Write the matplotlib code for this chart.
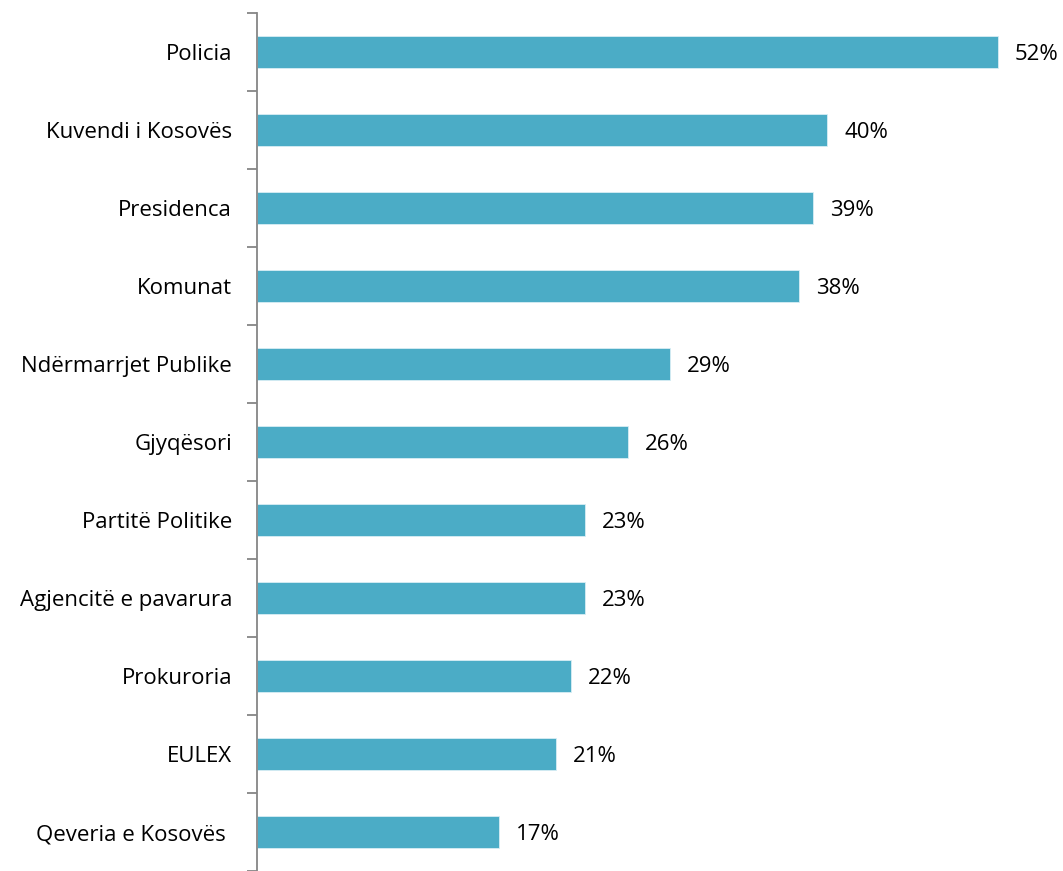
import matplotlib
matplotlib.use("Agg")
import matplotlib.pyplot as plt
import numpy as np

categories = ["Policia", "Kuvendi i Kosovës", "Presidenca", "Komunat",
              "Ndërmarrjet Publike", "Gjyqësori", "Partitë Politike",
              "Agjencitë e pavarura", "Prokuroria", "EULEX", "Qeveria e Kosovës "]
values = [52, 40, 39, 38, 29, 26, 23, 23, 22, 21, 17]

plt.rcParams['font.family'] = ['Open Sans', 'DejaVu Sans']

fig = plt.figure(figsize=(10.63, 8.71), dpi=100)
ax = fig.add_axes([257 / 1063, 0.0, (1055 - 257) / 1063, (871 - 13) / 871])

y = np.arange(len(categories))[::-1]
ax.barh(y, values, height=0.41, color="#4BACC6", edgecolor="#D8EEF4", linewidth=0.6)

for yi, v in zip(y, values):
    ax.text(v + 1.2, yi - 0.03, f"{v}%", va="center", ha="left", fontsize=16)

ax.set_xlim(0, 56)
ax.set_ylim(-0.5, len(categories) - 0.5)
ax.set_yticks(y)
ax.set_yticklabels(categories, fontsize=16)
ax.set_yticks(np.arange(len(categories) + 1) - 0.5, minor=True)
ax.tick_params(axis="y", which="major", length=0, pad=18)
ax.tick_params(axis="y", which="minor", length=7, color="#868686", width=1.3)
ax.set_xticks([])

for s in ["top", "right", "bottom"]:
    ax.spines[s].set_visible(False)
ax.spines["left"].set_color("#868686")
ax.spines["left"].set_linewidth(1.3)

fig.savefig("out.png", dpi=100)
